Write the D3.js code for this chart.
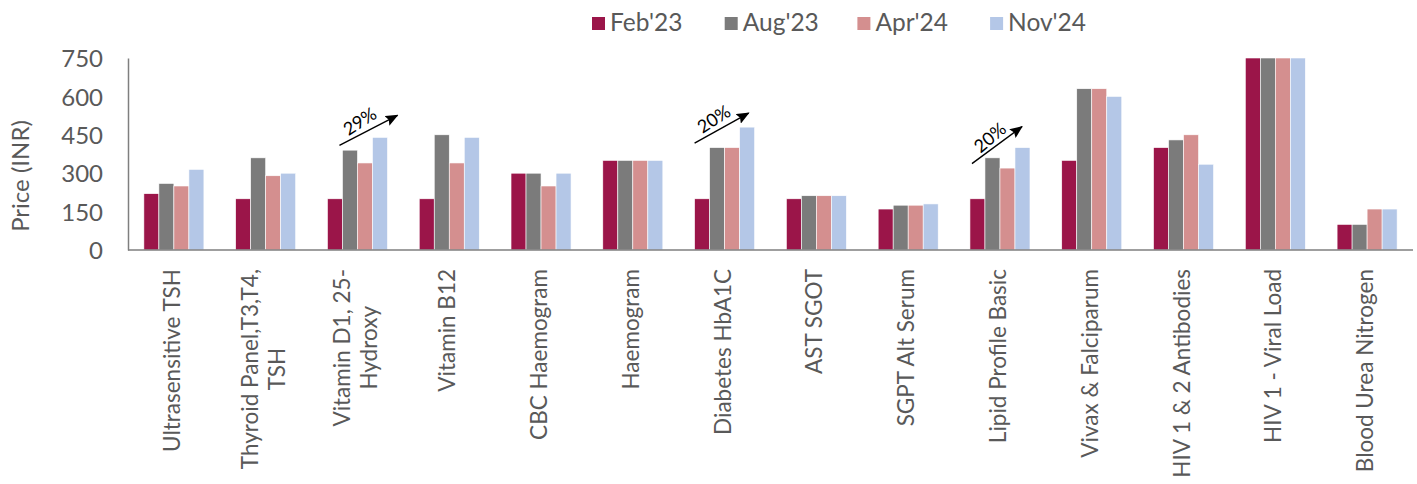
<!DOCTYPE html>
<html>
<head>
<meta charset="utf-8">
<script src="https://cdn.jsdelivr.net/npm/d3@7"></script>
<style>
  body { margin: 0; background: #fff; }
  svg text { font-family: Lato, "Open Sans", sans-serif; fill: #595959; }
</style>
</head>
<body>
<div id="chart"></div>
<script>
// tests, in the order shown
const categories = [
    ['Ultrasensitive TSH'],
    ['Thyroid Panel,T3,T4,', 'TSH'],
    ['Vitamin D1, 25-', 'Hydroxy'],
    ['Vitamin B12'],
    ['CBC Haemogram'],
    ['Haemogram'],
    ['Diabetes HbA1C'],
    ['AST SGOT'],
    ['SGPT Alt Serum'],
    ['Lipid Profile Basic'],
    ['Vivax & Falciparum'],
    ['HIV 1 & 2 Antibodies'],
    ['HIV 1 - Viral Load'],
    ['Blood Urea Nitrogen']
];
const seriesNames = ["Feb'23", "Aug'23", "Apr'24", "Nov'24"];
const feb23 = [220, 200, 200, 200, 300, 350, 200, 200, 160, 200, 350, 400, 750, 100];
const aug23 = [260, 360, 390, 450, 300, 350, 400, 212, 175, 360, 630, 430, 750, 100];
const apr24 = [250, 290, 340, 340, 250, 350, 400, 212, 175, 320, 630, 450, 750, 160];
const nov24 = [315, 300, 440, 440, 300, 350, 480, 212, 180, 400, 600, 335, 750, 160];
const yTicks = [0, 150, 300, 450, 600, 750];
// growth call-outs: category index and label
const calloutCats = [2, 6, 9];
const calloutText = ['29%', '20%', '20%'];

// arrow placement relative to the group (px from band edges / tallest bar)
const calloutLayout = [
    { dx0: 12, dy0: 8, dx1: 10, dy1: -22, rot: -33 },
    { dx0: 0, dy0: 16, dx1: -6, dy1: -14, rot: -33 },
    { dx0: 2, dy0: 16, dx1: -8, dy1: -21, rot: -40 }
];

const colors = ['#9b1549', '#7b7b7b', '#d48f8f', '#b4c7e7'];
const W = 1417, H = 484;
const margin = { top: 58, right: 4, bottom: 234, left: 128 };
const plotW = W - margin.left - margin.right;
const plotH = H - margin.top - margin.bottom;

const svg = d3.select('#chart').append('svg')
    .attr('width', W)
    .attr('height', H);

const g = svg.append('g')
    .attr('transform', `translate(${margin.left},${margin.top})`);

const x0 = d3.scaleBand()
    .domain(d3.range(categories.length))
    .range([0, plotW])
    .paddingInner(0.346)
    .paddingOuter(0.173);

const x1 = d3.scaleBand()
    .domain(seriesNames)
    .range([0, x0.bandwidth()]);

const y = d3.scaleLinear()
    .domain([0, 750])
    .range([plotH, 0]);

const series = [feb23, aug23, apr24, nov24];

// bars
categories.forEach((c, i) => {
    const grp = g.append('g').attr('transform', `translate(${x0(i)},0)`);
    series.forEach((vals, s) => {
        grp.append('rect')
            .attr('x', x1(seriesNames[s]))
            .attr('y', y(vals[i]))
            .attr('width', x1.bandwidth())
            .attr('height', plotH - y(vals[i]))
            .attr('fill', colors[s])
            .attr('stroke', '#fff')
            .attr('stroke-width', 0.6);
    });
});

// y axis
const yAxis = g.append('g')
    .call(d3.axisLeft(y).tickValues(yTicks).tickSize(0).tickPadding(25));
yAxis.select('.domain').attr('stroke', '#7f7f7f').attr('stroke-width', 1.5);
yAxis.selectAll('text')
    .attr('font-size', 24)
    .attr('dy', '0.36em')
    .style('font-family', 'Lato, sans-serif')
    .attr('fill', '#595959');

// x axis line
g.append('line')
    .attr('x1', 0).attr('x2', plotW)
    .attr('y1', plotH).attr('y2', plotH)
    .attr('stroke', '#7f7f7f')
    .attr('stroke-width', 1.5);

// rotated category labels
const lineH = 27;
categories.forEach((lines, i) => {
    const cx = x0(i) + x0.bandwidth() / 2;
    const t = g.append('text')
        .attr('transform', `translate(${cx},${plotH + 19}) rotate(-90)`)
        .attr('font-size', 22.5)
        .attr('text-anchor', 'end');
    const n = lines.length;
    const spans = lines.map((ln, k) => t.append('tspan')
        .attr('x', 0)
        .attr('dy', k === 0 ? (6 - (n - 1) * lineH / 2) + 'px' : lineH + 'px')
        .text(ln));
    // centre shorter lines against the longest one
    const lens = spans.map(s => s.node().getComputedTextLength());
    const maxLen = d3.max(lens);
    spans.forEach((s, k) => s.attr('x', -(maxLen - lens[k]) / 2));
});

// y axis title
svg.append('text')
    .attr('transform', 'translate(29,176) rotate(-90)')
    .attr('text-anchor', 'middle')
    .attr('font-size', 24)
    .text('Price (INR)');

// legend
const legend = svg.append('g').attr('transform', 'translate(592,0)');
seriesNames.forEach((name, s) => {
    const it = legend.append('g').attr('transform', `translate(${s * 132.7},0)`);
    it.append('rect')
        .attr('x', 0).attr('y', 17)
        .attr('width', 13).attr('height', 13)
        .attr('fill', colors[s]);
    it.append('text')
        .attr('x', 18).attr('y', 31)
        .attr('font-size', 24.5)
        .text(name);
});

// arrows
svg.append('defs').append('marker')
    .attr('id', 'arrow')
    .attr('viewBox', '0 0 12 10')
    .attr('refX', 11).attr('refY', 5)
    .attr('markerWidth', 13).attr('markerHeight', 11)
    .attr('markerUnits', 'userSpaceOnUse')
    .attr('orient', 'auto')
    .append('path')
    .attr('d', 'M0,0 L12,5 L0,10 L2,5 Z')
    .attr('fill', '#000');

calloutCats.forEach((cat, k) => {
    const L = calloutLayout[k];
    const left = x0(cat);
    const right = left + x0.bandwidth();
    const topV = d3.max(series, s => s[cat]);
    const xa = left + L.dx0;
    const ya = y(topV) + L.dy0;
    const xb = right + L.dx1;
    const yb = y(topV) + L.dy1;
    g.append('line')
        .attr('x1', xa).attr('y1', ya)
        .attr('x2', xb).attr('y2', yb)
        .attr('stroke', '#000')
        .attr('stroke-width', 1.4)
        .attr('marker-end', 'url(#arrow)');
    const mx = xa + (xb - xa) * 0.3, my = ya + (yb - ya) * 0.3;
    g.append('text')
        .attr('transform', `translate(${mx + 3},${my - 15}) rotate(${L.rot})`)
        .attr('text-anchor', 'middle')
        .attr('dy', '0.35em')
        .attr('font-size', 18)
        .style('fill', '#000')
        .text(calloutText[k]);
});
</script>
</body>
</html>
